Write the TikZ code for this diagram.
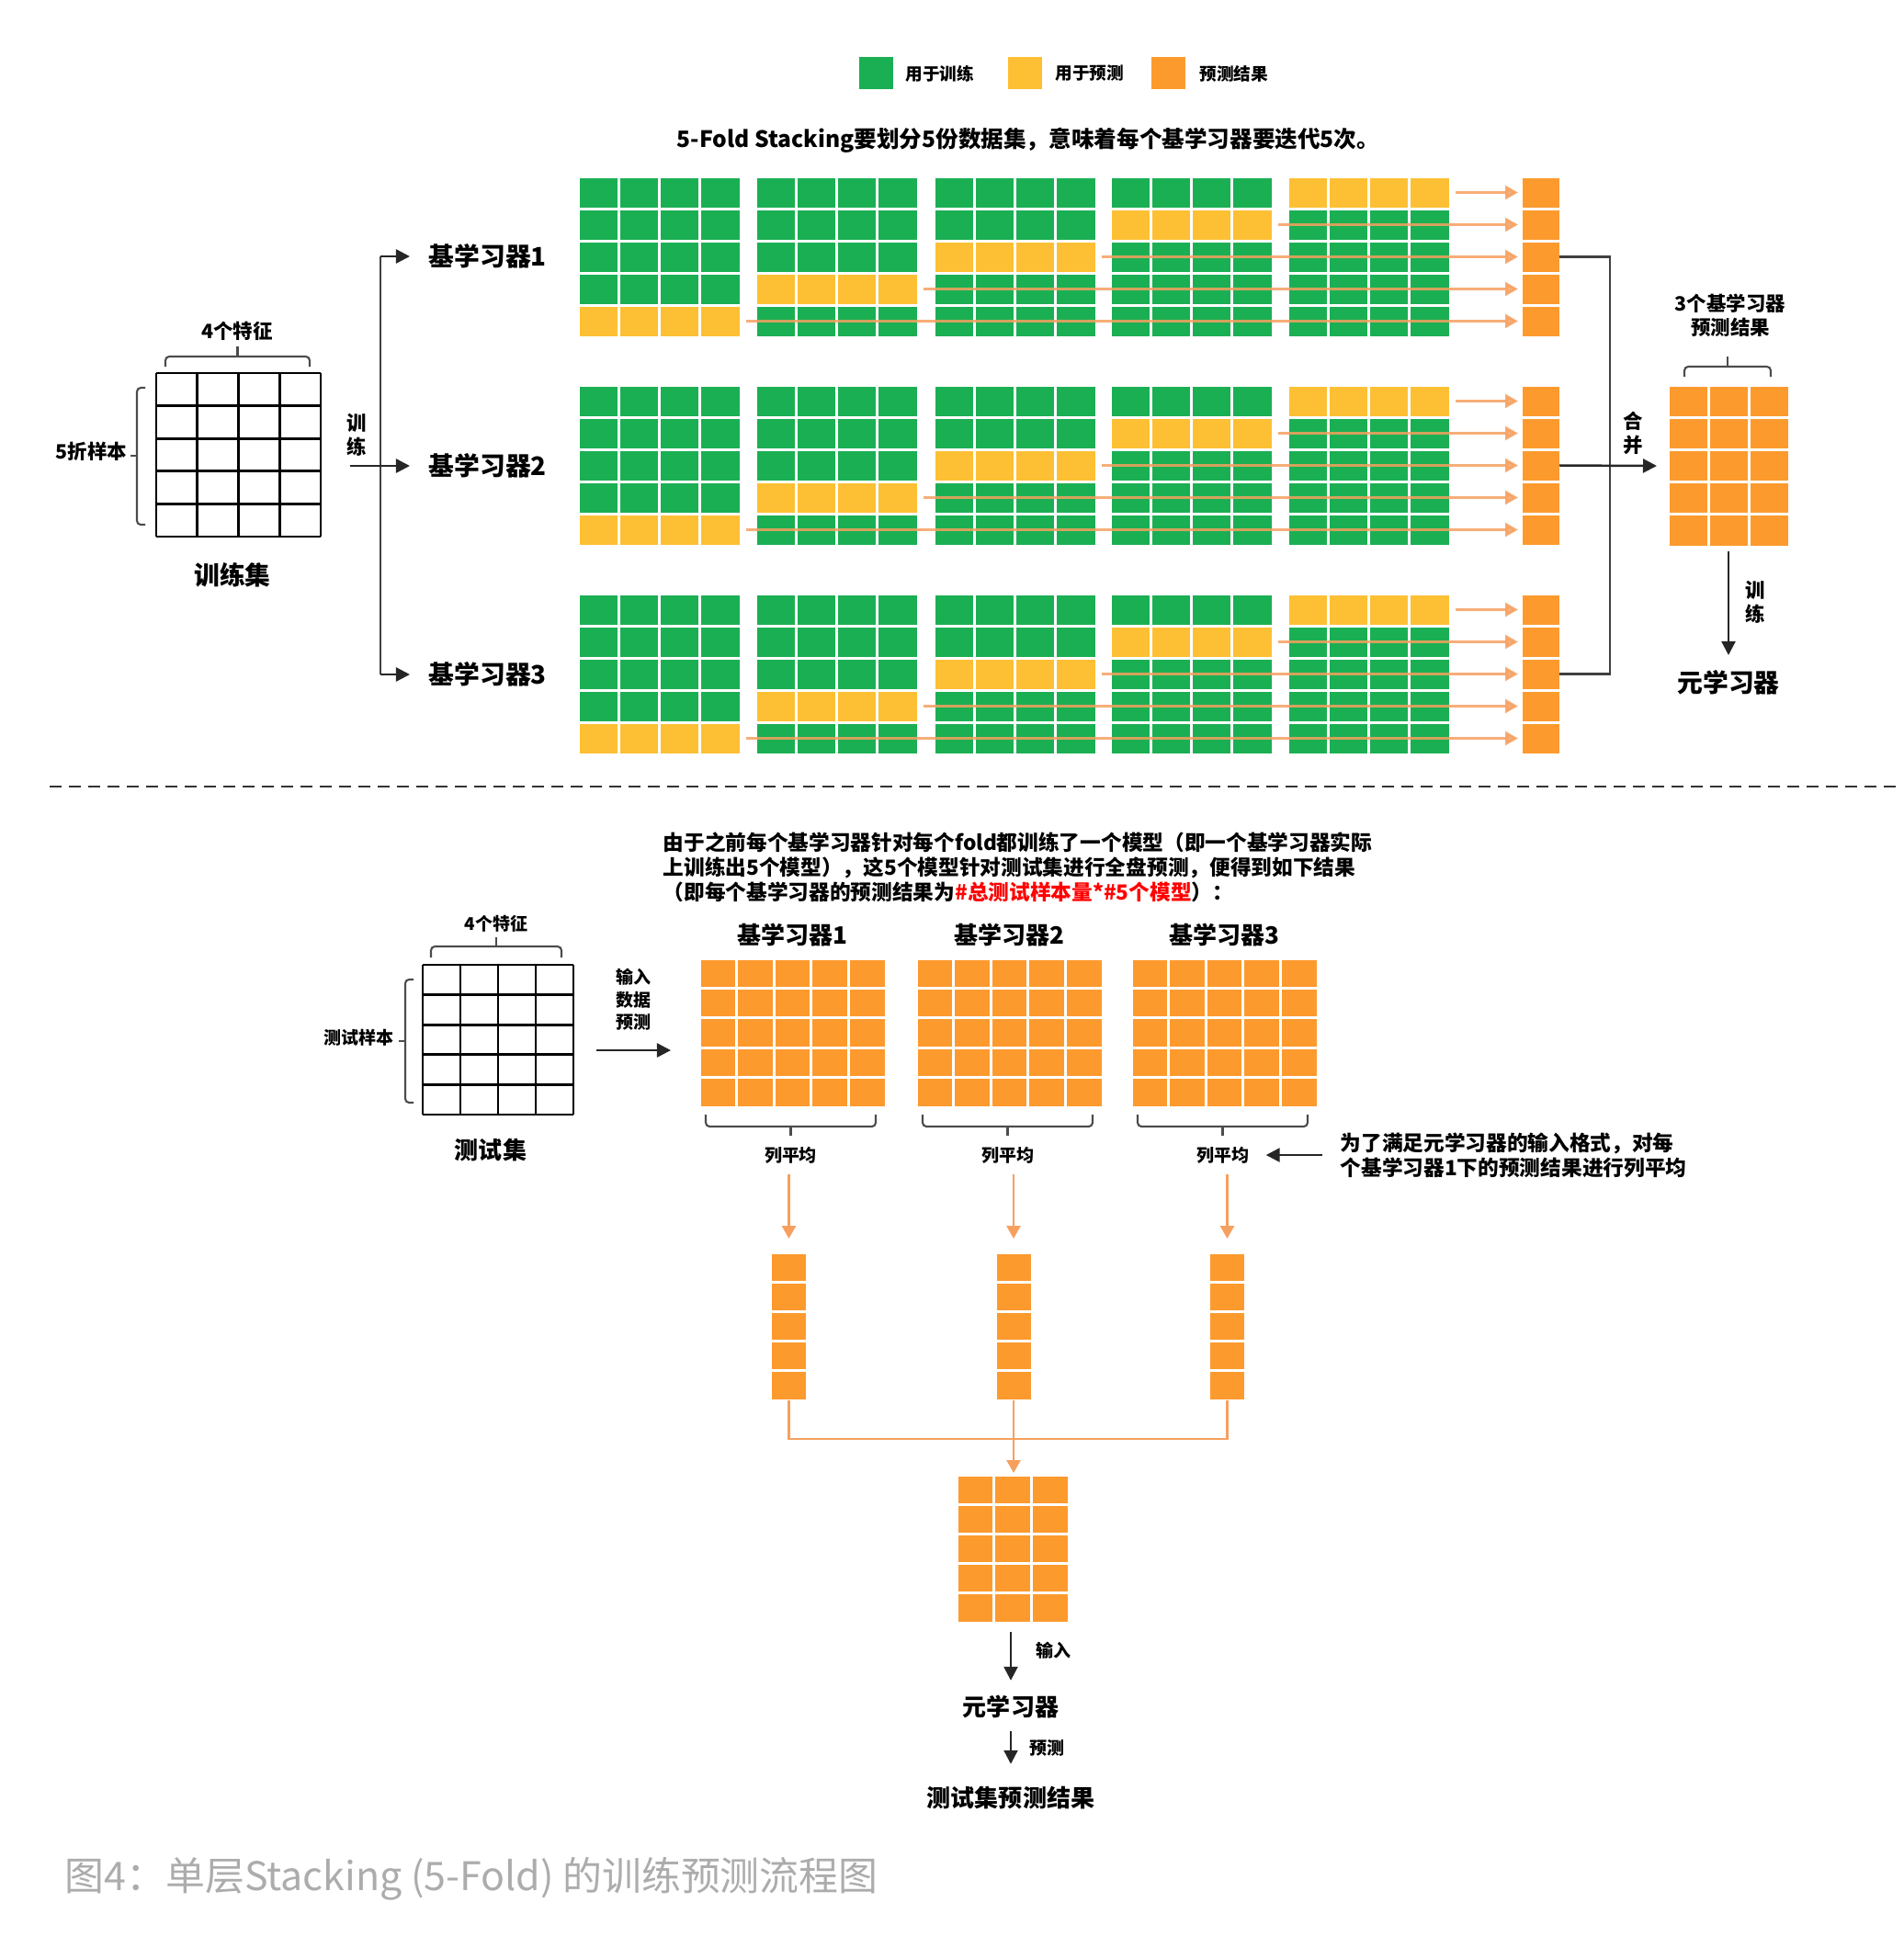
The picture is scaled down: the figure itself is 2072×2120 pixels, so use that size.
\documentclass[tikz,border=0pt]{standalone}
\usepackage{fontspec}
\setmainfont{Noto Sans CJK SC}
\usetikzlibrary{arrows.meta,positioning,calc}
\definecolor{trainc}{RGB}{27,175,84}
\definecolor{predc}{RGB}{253,192,52}
\definecolor{resc}{RGB}{253,154,46}
\definecolor{linkc}{RGB}{246,160,95}
\definecolor{capc}{RGB}{172,172,172}

\begin{document}
\begin{tikzpicture}[x=0.01cm, y=-0.01cm,
  lgd/.style={font=\bfseries\fontsize{5.3}{6.5}\selectfont, inner sep=0pt},
  mid/.style={font=\bfseries\fontsize{6.1}{7.4}\selectfont, inner sep=0pt, align=center},
  small/.style={font=\bfseries\fontsize{5.4}{6.9}\selectfont, inner sep=0pt, align=center},
  head/.style={font=\bfseries\fontsize{7.9}{9}\selectfont, inner sep=0pt},
  head2/.style={font=\bfseries\fontsize{7.4}{9}\selectfont, inner sep=0pt},
  note/.style={font=\bfseries\fontsize{6.5}{7.7}\selectfont, inner sep=0pt, align=left},
  arr/.style={-{Triangle[length=0.15cm,width=0.15cm]}, line width=0.7pt, black!85},
  link/.style={line width=0.7pt, black!75},
  oarr/.style={-{Triangle[length=0.14cm,width=0.15cm]}, line width=0.8pt, linkc},
  oline/.style={line width=0.7pt, linkc},
  brace/.style={line width=0.6pt, black!70, rounded corners=1.2pt},
  gridln/.style={line width=0.8pt, black},
]
\useasboundingbox (0,0) rectangle (2072,2120);

% legend
\fill[trainc] (935,62) rectangle (972,97);
\fill[predc] (1097,62) rectangle (1134,97);
\fill[resc] (1253,62) rectangle (1290,97);
\node[lgd, anchor=west] (lg1) at (985,80) {用于训练};
\node[lgd, anchor=west] (lg2) at (1148,80) {用于预测};
\node[lgd, anchor=west] (lg3) at (1305,80) {预测结果};

\node[mid, font=\bfseries\fontsize{7}{8}\selectfont] (title) at (1119,153)
  {5-Fold Stacking要划分5份数据集，意味着每个基学习器要迭代5次。};

% training set
\foreach \j in {0,...,4} \draw[gridln] ({170+\j*44.75},406) -- ++(0,178);
\foreach \i in {0,...,5} \draw[gridln] (170,{406+\i*35.6}) -- ++(179,0);
\draw[brace] (180,399) -- (180,388) -- (337,388) -- (337,399);
\draw[brace] (258.5,388) -- (258.5,377);
\node[mid] (feat) at (258,360) {4个特征};
\draw[brace] (158,422) -- (149,422) -- (149,571) -- (158,571);
\draw[brace] (149,496) -- (142,496);
\node[mid, anchor=east] (fold) at (139,491) {5折样本};
\node[head] (trainset) at (253,626) {训练集};

% fork to the base learners
\coordinate (src) at (381,507);
\coordinate (fk1) at (414,279);
\coordinate (fk3) at (414,734);
\node[head, anchor=west, inner xsep=0.2cm] (bl1) at (446,279) {基学习器1};
\node[head, anchor=west, inner xsep=0.2cm] (bl2) at (446,507) {基学习器2};
\node[head, anchor=west, inner xsep=0.2cm] (bl3) at (446,734) {基学习器3};
\draw[link] (fk1) -- (fk3);
\draw[arr] (fk1) -- (bl1.west);
\draw[arr] (src) -- (bl2.west);
\draw[arr] (fk3) -- (bl3.west);
\node[mid] (trn) at (388,473) {训\\练};

% 5 folds per base learner
\foreach \r/\ty in {1/192, 2/419, 3/646} {
  \foreach \k/\bx in {1/629, 2/822, 3/1016, 4/1208, 5/1401} {
    \foreach \i in {1,...,5} {
      \pgfmathsetmacro\cy{\ty+(\i-1)*35}
      \ifnum\i=\numexpr6-\k\relax \def\cc{predc}\else\def\cc{trainc}\fi
      \foreach \j in {1,...,4}
        \fill[\cc] ({\bx+(\j-1)*44.25+1.5}, {\cy+1.5}) rectangle ++(41.25,32);
    }
    \coordinate (y\r-\k) at ({\bx+183}, {\ty+(5-\k)*35+17.5});
    \coordinate (o\r-\k) at (1652, {\ty+(5-\k)*35+17.5});
  }
  \foreach \i in {1,...,5}
    \fill[resc] (1657, {\ty+(\i-1)*35+1.5}) rectangle ++(40,32);
  \coordinate (m\r) at (1697, {\ty+87.5});
}
\foreach \r in {1,2,3}
  \foreach \k in {1,...,5}
    \draw[oarr, opacity=0.85] (y\r-\k) -- (o\r-\k);

% merge
\coordinate (mj) at (1752,507);
\coordinate (agg-w) at (1803,507);
\draw[link] (m1) -| (mj) |- (m3);
\draw[arr] (m2) -- (agg-w);
\node[mid] (mrg) at (1777,471) {合\\并};

\foreach \i in {1,...,5}
  \foreach \j in {1,...,3}
    \fill[resc] ({1815+(\j-1)*44.33+1.5}, {419+(\i-1)*35.2+1.5}) rectangle ++(41.3,32.2);
\draw[brace] (1833,410) -- (1833,399) -- (1927,399) -- (1927,410);
\draw[brace] (1880,399) -- (1880,388);
\node[mid] (aggl) at (1883,343) {3个基学习器\\预测结果};
\coordinate (agg-s) at (1881,600);
\node[head] (meta1) at (1881,743) {元学习器};
\draw[arr, shorten >=0.16cm] (agg-s) -- (meta1);
\node[mid] (trn2) at (1910,655) {训\\练};

% separator
\coordinate (sepl) at (54,856);
\coordinate (sepr) at (2063,856);
\draw[line width=0.8pt, black!80, dash pattern=on 0.13cm off 0.08cm] (sepl) -- (sepr);

\node[note, anchor=west, font=\bfseries\fontsize{6.45}{7.7}\selectfont] (expl) at (721,944)
  {由于之前每个基学习器针对每个fold都训练了一个模型（即一个基学习器实际\\
   上训练出5个模型），这5个模型针对测试集进行全盘预测，便得到如下结果\\
   （即每个基学习器的预测结果为\textcolor{red}{\#总测试样本量*\#5个模型}）：};

% test set
\foreach \j in {0,...,4} \draw[gridln] ({460+\j*41},1050) -- ++(0,163);
\foreach \i in {0,...,5} \draw[gridln] (460,{1050+\i*32.6}) -- ++(164,0);
\draw[brace] (469,1042) -- (469,1030) -- (611,1030) -- (611,1042);
\draw[brace] (540,1030) -- (540,1020);
\node[small] (feat2) at (540,1005) {4个特征};
\draw[brace] (450,1066) -- (441,1066) -- (441,1200) -- (450,1200);
\draw[brace] (441,1133) -- (434,1133);
\node[small, anchor=east] (tsmp) at (429,1129) {测试样本};
\node[head2] (testset) at (534,1252) {测试集};

\coordinate (tin) at (649,1143);
\coordinate (tout) at (730,1143);
\draw[arr] (tin) -- (tout);
\node[small] (inp) at (689,1088) {输入\\数据\\预测};

% predictions of each base learner on the test set
\foreach \g/\gx/\cx in {1/761/858.5, 2/997/1103, 3/1231/1335.5} {
  \foreach \i in {1,...,5}
    \foreach \j in {1,...,5}
      \fill[resc] ({\gx+(\j-1)*40.6+1.5}, {1043+(\i-1)*32.4+1.5}) rectangle ++(37.6,29.4);
  \node[head2] (pl\g) at ({\gx+101.5},1017) {基学习器\g};
  \draw[brace] ({\gx+7},1213) -- ({\gx+7},1226) -- ({\gx+192},1226) -- ({\gx+192},1213);
  \draw[brace] ({\gx+99.5},1226) -- ({\gx+99.5},1236);
  \node[small] (avg\g) at ({\gx+99.5},1257) {列平均};
  \foreach \i in {1,...,5}
    \fill[resc] ({\cx-18.5}, {1363+(\i-1)*32.2+1.5}) rectangle ++(37,29.2);
  \coordinate (ct\g) at (\cx,1363);
  \coordinate (cb\g) at (\cx,1524);
  \draw[oarr, shorten <=0.11cm, shorten >=0.15cm] (avg\g.south -| ct\g) -- (ct\g);
}
\node[note, anchor=west, font=\bfseries\fontsize{6.45}{7.7}\selectfont] (why) at (1458,1257)
  {为了满足元学习器的输入格式，对每\\个基学习器1下的预测结果进行列平均};
\draw[arr, shorten <=0.19cm, shorten >=0.18cm] (why.west) -- (avg3);

% average columns combined
\coordinate (ft) at (1103,1603);
\draw[oline] (cb1) -- ++(0,42) -| (cb3);
\draw[oarr] (cb2) -- (ft);
\foreach \i in {1,...,5}
  \foreach \j in {1,...,3}
    \fill[resc] ({1041+(\j-1)*40.67+1.5}, {1605+(\i-1)*32.2+1.5}) rectangle ++(37.7,29.2);
\coordinate (fb) at (1100,1768);
\node[head2] (meta2) at (1100,1857) {元学习器};
\node[head2] (res) at (1100,1957) {测试集预测结果};
\draw[arr, shorten <=0.08cm, shorten >=0.15cm] (fb) -- (meta2);
\draw[arr, shorten <=0.14cm, shorten >=0.24cm] (meta2) -- (res);
\node[small] (inp2) at (1146,1796) {输入};
\node[small] (pred2) at (1139,1902) {预测};

% caption
\node[anchor=west, inner sep=0pt, font=\fontsize{12.2}{14}\selectfont, text=capc] (cap) at (70,2045)
  {图4：单层Stacking (5-Fold) 的训练预测流程图};
\end{tikzpicture}
\end{document}
